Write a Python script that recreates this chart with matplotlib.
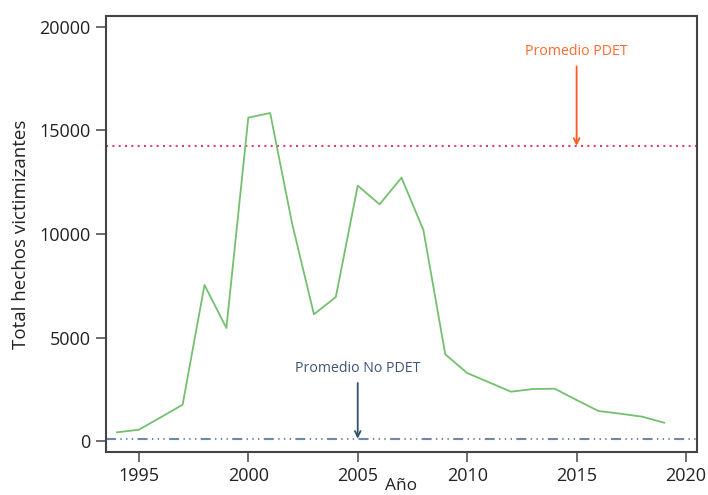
import matplotlib
matplotlib.use("Agg")
import matplotlib.pyplot as plt

years = list(range(1994, 2020))
total = [420, 546, 1145, 1754, 7536, 5459, 15620, 15845, 10517, 6120, 6956,
         12335, 11432, 12720, 10193, 4188, 3285, 2835, 2382, 2512, 2527, 1981,
         1449, 1320, 1175, 884]
prom_pdet = 14260
prom_no_pdet = 110
xticks = [1995, 2000, 2005, 2010, 2015, 2020]
yticks = [0, 5000, 10000, 15000, 20000]

plt.rcParams['font.family'] = ['Open Sans', 'DejaVu Sans']

W, H = 708, 495
fig = plt.figure(figsize=(W / 100, H / 100), dpi=100)
ax = fig.add_axes([106 / W, 1 - 452 / H, (697 - 106) / W, (452 - 16) / H])

ax.plot(years, total, color='#74C070', lw=1.3, zorder=3)
ax.axhline(prom_pdet, color='#E0143C', lw=1.2, linestyle=(0, (1.2, 2.6)), zorder=2)
ax.axhline(prom_no_pdet, color='#7088A8', lw=1.5,
           linestyle=(0, (4.8, 2.1, 0.65, 2.1, 0.65, 2.1, 0.65, 2.1)), zorder=2)

ax.annotate('Promedio PDET', xy=(2015, prom_pdet), xytext=(2015, 18430),
            ha='center', va='bottom', color='#FF6A30', fontsize=10.2,
            arrowprops=dict(arrowstyle='->', color='#FF5A1F', lw=1.3,
                            shrinkA=3, shrinkB=0))
ax.annotate('Promedio No PDET', xy=(2005, prom_no_pdet), xytext=(2005, 3140),
            ha='center', va='bottom', color='#3E5473', fontsize=10.2,
            arrowprops=dict(arrowstyle='->', color='#34506F', lw=1.3,
                            shrinkA=3, shrinkB=0))

ax.set_xlim(1993.5, 2020.5)
ax.set_ylim(-530, 20530)
ax.set_xticks(xticks)
ax.set_xticklabels([str(x) for x in xticks])
ax.set_yticks(yticks)
ax.set_yticklabels([str(y) for y in yticks])
ax.tick_params(axis='both', labelsize=13, length=7, width=1.2,
               color='#555555', labelcolor='#222222', pad=4)
for s in ax.spines.values():
    s.set_color('#444444')
    s.set_linewidth(1.5)

ax.set_ylabel('Total hechos victimizantes', fontsize=13.5, color='#222222', labelpad=7)
fig.text(401.5 / W, 1 - 478 / H, 'Año', ha='center', va='top', fontsize=12.5, color='#222222')

fig.savefig('out.png', dpi=100)
